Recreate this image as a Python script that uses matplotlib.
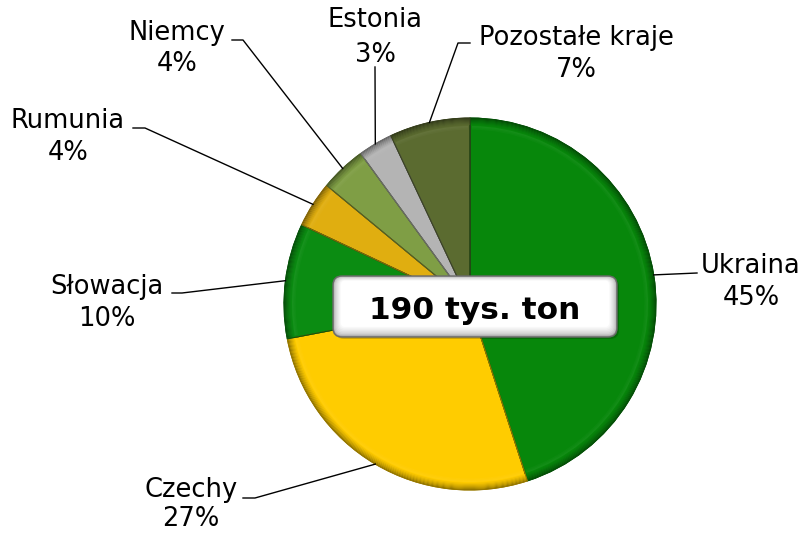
import numpy as np
import matplotlib.pyplot as plt
from matplotlib.patches import Wedge, FancyBboxPatch
from matplotlib import colors as mcolors

# data
countries = ["Ukraina", "Czechy", "Słowacja", "Rumunia", "Niemcy", "Estonia", "Pozostałe kraje"]
shares = [45, 27, 10, 4, 4, 3, 7]
pct_labels = ["45%", "27%", "10%", "4%", "4%", "3%", "7%"]
slice_colors = ["#07870b", "#ffcc00", "#0b8c12", "#e0ae10", "#7f9e45", "#b4b4b4", "#5b6b30"]
total_label = "190 tys. ton"

W, H = 804, 533

# label layout in pixels from top: (x centre, name baseline, pct baseline)
label_pos = [(751, 273, 305), (191, 497, 526), (107, 294, 326), (68, 128, 160),
             (177, 40, 71), (375, 27, 62), (576, 45, 77)]
# leader line points before the pie edge
leader_pts = [[(697, 273)], [(243, 498), (255, 498)], [(172, 293), (182, 293)],
              [(133, 128), (145, 128)], [(232, 40), (243, 40)], [(375, 67)],
              [(470, 43), (458, 43)]]

fig = plt.figure(figsize=(W / 100, H / 100), dpi=100)
ax = fig.add_axes([0, 0, 1, 1])

cx, cy, R = 470, H - 304, 186

wedges, _ = ax.pie(shares, colors=slice_colors, startangle=90, counterclock=False,
                   center=(cx, cy), radius=R)

def shade(c, f):
    rgb = np.array(mcolors.to_rgb(c))
    if f < 1:
        return tuple(rgb * f)
    return tuple(rgb + (1 - rgb) * (f - 1))

# bevel: dark rim and a faint light band inside
for w, c in zip(wedges, slice_colors):
    t1, t2 = w.theta1, w.theta2
    w.set_edgecolor(shade(c, 0.6))
    w.set_linewidth(0.7)
    n = 7
    for i in range(n):
        f = 0.55 + 0.45 * (i / n) ** 0.8
        ax.add_patch(Wedge((cx, cy), R - i * 1.0, t1, t2, width=1.1,
                           facecolor=shade(c, f), edgecolor="none"))
    for i in range(3):
        ax.add_patch(Wedge((cx, cy), R - 8 - i * 1.2, t1 + 0.6, t2 - 0.6, width=1.3,
                           facecolor=shade(c, 1.2 - 0.06 * i), edgecolor="none", alpha=0.25))
    ax.add_patch(Wedge((cx, cy), R, t1, t2, facecolor="none",
                       edgecolor=shade(c, 0.6), linewidth=0.7))

# labels and leader lines
for w, name, pct, pos, pts in zip(wedges, countries, pct_labels, label_pos, leader_pts):
    mid = np.deg2rad((w.theta1 + w.theta2) / 2)
    ex, ey = cx + R * np.cos(mid), cy + R * np.sin(mid)
    xs = [p[0] for p in pts] + [ex]
    ys = [H - p[1] for p in pts] + [ey]
    ax.plot(xs, ys, color="black", lw=1)
    x, b1, b2 = pos
    ax.text(x, H - b1, name, ha="center", va="baseline", fontsize=18.5, color="black")
    ax.text(x, H - b2, pct, ha="center", va="baseline", fontsize=18.5, color="black")

# centre box with shaded edges
bx0, bx1, by0, by1 = 333, 617, H - 337, H - 276
ax.add_patch(FancyBboxPatch((bx0 + 2, by0 - 2), bx1 - bx0, by1 - by0,
                            boxstyle="round,pad=0,rounding_size=9",
                            facecolor="#00000030", edgecolor="none"))
steps = 8
for i in range(steps):
    inset = i * 1.1
    g = 0.62 + 0.38 * (i / (steps - 1)) ** 0.5
    ax.add_patch(FancyBboxPatch((bx0 + inset, by0 + inset * 1.3), bx1 - bx0 - 2 * inset,
                                by1 - by0 - inset * 1.9,
                                boxstyle="round,pad=0,rounding_size=%.1f" % max(9 - inset * 0.6, 2),
                                facecolor=(g, g, g), edgecolor="none"))
ax.add_patch(FancyBboxPatch((bx0, by0), bx1 - bx0, by1 - by0,
                            boxstyle="round,pad=0,rounding_size=9",
                            facecolor="none", edgecolor="#6a6a6a", linewidth=1))
ax.text(474.5, H - 319, total_label, ha="center", va="baseline",
        fontsize=22.5, fontweight="bold", color="black")

ax.set_xlim(0, W)
ax.set_ylim(0, H)
ax.set_aspect("auto")
ax.axis("off")

fig.savefig("out.png", dpi=100, facecolor="white")
